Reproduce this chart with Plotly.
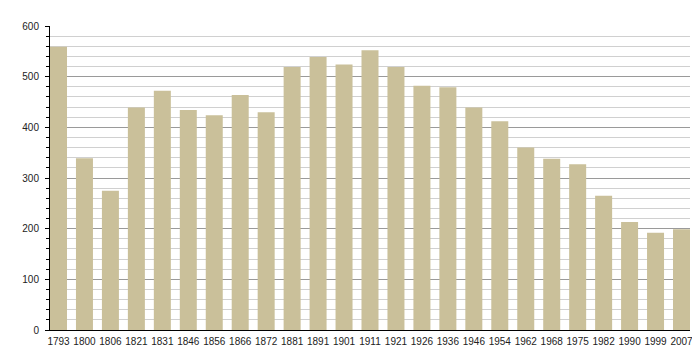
import plotly.graph_objects as go

years = ["1793", "1800", "1806", "1821", "1831", "1846", "1856", "1866", "1872", "1881",
         "1891", "1901", "1911", "1921", "1926", "1936", "1946", "1954", "1962", "1968",
         "1975", "1982", "1990", "1999", "2007"]
population = [559, 339, 275, 439, 472, 434, 424, 464, 430, 519,
              539, 524, 552, 519, 482, 479, 439, 412, 360, 338,
              327, 265, 213, 192, 199]
y_ticks = [0, 100, 200, 300, 400, 500, 600]

gap = 0.345
half = (1 - gap) / 2

fig = go.Figure(go.Bar(x=years, y=population, marker=dict(color="#CAC09A", line=dict(width=0))))

fig.update_layout(
    width=700, height=360,
    margin=dict(l=42, r=18, t=12, b=38),
    plot_bgcolor="white", paper_bgcolor="white",
    bargap=gap,
    showlegend=False,
    font=dict(family="Liberation Sans, Arial, sans-serif", size=10, color="#222"),
)
fig.update_xaxes(
    type="category", range=[-half, len(years) - 1 + half],
    showline=True, linecolor="black", linewidth=1,
    ticks="", showgrid=False, tickangle=0, tickfont=dict(size=10),
    ticklabelstandoff=2,
)
fig.update_yaxes(
    range=[0, 600], tickvals=y_ticks, showline=True, linecolor="black", linewidth=1,
    ticks="outside", ticklen=4, tickcolor="black",
    showgrid=True, gridcolor="#9a9a9a", gridwidth=1,
    minor=dict(dtick=20, showgrid=True, gridcolor="#d0d0d0", gridwidth=1,
               ticks="outside", ticklen=3, tickcolor="black"),
    zeroline=False, tickfont=dict(size=10), ticklabelstandoff=4,
)

fig.write_html("out.html")
